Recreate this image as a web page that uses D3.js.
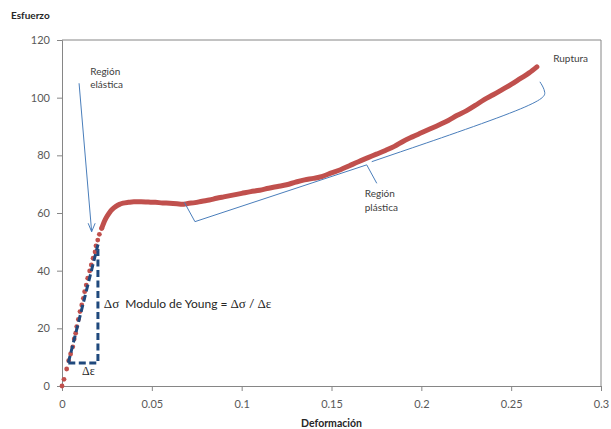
<!DOCTYPE html>
<html><head><meta charset="utf-8">
<script src="https://cdn.jsdelivr.net/npm/d3@7"></script>
<style>
html,body{margin:0;padding:0;background:#fff;}
text{font-family:Lato,"Open Sans",sans-serif;}
</style></head><body>
<svg id="chart" width="611" height="429"></svg>
<script>
// ---- data ----
const xTicks = [0, 0.05, 0.1, 0.15, 0.2, 0.25, 0.3];
const xTickLabels = ["0", "0.05", "0.1", "0.15", "0.2", "0.25", "0.3"];
const yTicks = [0, 20, 40, 60, 80, 100, 120];
const yTickLabels = ["0", "20", "40", "60", "80", "100", "120"];

// elastic region: individual sample points
const elasticStrain = [0, 0.0011, 0.0026, 0.0037, 0.0048, 0.0060, 0.0068, 0.0076, 0.0082, 0.0091, 0.0100, 0.0110, 0.0119, 0.0126, 0.0135, 0.0143, 0.0154, 0.0163, 0.0173, 0.0184, 0.0189, 0.0199, 0.0208, 0.0221];
const elasticStress = [0, 2.3, 5.9, 8.8, 11.1, 13.6, 16.3, 18.3, 20.6, 23.1, 25.8, 28.1, 30.4, 32.7, 35.0, 37.4, 39.9, 42.0, 44.3, 46.5, 48.6, 50.6, 52.6, 54.7];

// yield + plastic region: densely sampled points (drawn as a thick trace)
const plasticStrain = [0.0221, 0.0235, 0.0250, 0.0265, 0.0280, 0.0300, 0.0320, 0.0340, 0.0370, 0.0400, 0.0440, 0.0480, 0.0520, 0.0560, 0.0600, 0.0640, 0.0670, 0.0700, 0.0740, 0.0780, 0.0820, 0.0860, 0.0900, 0.0950, 0.1000, 0.1050, 0.1100, 0.1150, 0.1200, 0.1250, 0.1300, 0.1350, 0.1400, 0.1450, 0.1500, 0.1550, 0.1600, 0.1650, 0.1700, 0.1750, 0.1800, 0.1850, 0.1900, 0.1950, 0.2000, 0.2050, 0.2100, 0.2150, 0.2200, 0.2250, 0.2300, 0.2350, 0.2400, 0.2450, 0.2500, 0.2550, 0.2600, 0.2643];
const plasticStress = [54.7, 57.0, 58.8, 60.2, 61.3, 62.3, 63.0, 63.4, 63.7, 63.9, 63.9, 63.8, 63.7, 63.5, 63.4, 63.2, 63.0, 63.3, 63.6, 64.1, 64.5, 65.1, 65.6, 66.2, 66.8, 67.4, 67.9, 68.6, 69.2, 69.8, 70.7, 71.5, 72.0, 72.7, 73.9, 75.0, 76.4, 77.8, 79.1, 80.4, 81.7, 83.1, 84.9, 86.4, 87.8, 89.2, 90.6, 92.1, 93.9, 95.4, 97.3, 99.3, 101.0, 102.8, 104.6, 106.6, 108.6, 110.7];

// Young's modulus triangle (strain, stress)
const triStrain = [0.0035, 0.0200, 0.0200, 0.0035];
const triStress = [8, 8, 49, 8];

// annotation anchors (strain, stress)
const arrowStrain = [0.0095, 0.0165];
const arrowStress = [105.0, 53.5];
const braceStrain = [0.0681, 0.0740, 0.1696, 0.1752];
const braceStress = [63.7, 57.0, 76.7, 70.3];
const brace2Strain = [0.1724, 0.2679, 0.2695, 0.2660];
const brace2Stress = [77.8, 98.1, 102.0, 105.5];

// ---- layout ----
const W = 611, H = 429;
const m = {left: 62, right: 10, top: 40, bottom: 43};
const svg = d3.select("#chart");
const x = d3.scaleLinear().domain([0, 0.3]).range([m.left, W - m.right]);
const y = d3.scaleLinear().domain([0, 120]).range([H - m.bottom, m.top]);

const axisColor = "#868686";
const labelColor = "#595959";

// frame (top / right)
svg.append("line").attr("x1", x(0)).attr("x2", x(0.3)).attr("y1", y(120)).attr("y2", y(120)).attr("stroke", axisColor);
svg.append("line").attr("x1", x(0.3)).attr("x2", x(0.3)).attr("y1", y(120)).attr("y2", y(0)).attr("stroke", axisColor);

// axes
const xAxis = d3.axisBottom(x).tickValues(xTicks).tickFormat((d, i) => xTickLabels[i]).tickSize(5).tickPadding(9);
const yAxis = d3.axisLeft(y).tickValues(yTicks).tickFormat((d, i) => yTickLabels[i]).tickSize(5).tickPadding(7);
const gx = svg.append("g").attr("transform", `translate(0,${y(0)})`).call(xAxis);
const gy = svg.append("g").attr("transform", `translate(${x(0)},0)`).call(yAxis);
[gx, gy].forEach(g => {
  g.select(".domain").attr("stroke", axisColor);
  g.selectAll(".tick line").attr("stroke", axisColor);
  g.selectAll(".tick text").attr("fill", labelColor).style("font-size", "11px").style("font-family", "Lato, sans-serif");
});

// axis titles
svg.append("text").attr("x", 11).attr("y", 19).text("Esfuerzo")
  .style("font-size", "10px").style("font-weight", "bold").attr("fill", "#262626");
svg.append("text").attr("x", (x(0) + x(0.3)) / 2).attr("y", 427).attr("text-anchor", "middle").text("Deformación")
  .style("font-size", "10.5px").style("font-weight", "bold").attr("fill", "#262626");

// ---- data marks ----
const red = "#C0504D";
const plastic = plasticStrain.map((s, i) => [s, plasticStress[i]]);
svg.append("path").datum(plastic)
  .attr("d", d3.line().x(d => x(d[0])).y(d => y(d[1])).curve(d3.curveMonotoneX))
  .attr("fill", "none").attr("stroke", red).attr("stroke-width", 5).attr("stroke-linecap", "round").attr("stroke-linejoin", "round");

svg.append("g").selectAll("circle").data(elasticStrain.map((s, i) => [s, elasticStress[i]]))
  .join("circle").attr("cx", d => x(d[0])).attr("cy", d => y(d[1])).attr("r", 2.4).attr("fill", red);

// Young's modulus dashed triangle
svg.append("path").datum(triStrain.map((s, i) => [s, triStress[i]]))
  .attr("d", d3.line().x(d => x(d[0])).y(d => y(d[1])))
  .attr("fill", "none").attr("stroke", "#1F497D").attr("stroke-width", 3).attr("stroke-dasharray", "7,3.5");

// annotations
const blue = "#4A7EBB";
const lineGen = d3.line().x(d => x(d[0])).y(d => y(d[1]));
// arrow
svg.append("path").datum(arrowStrain.map((s, i) => [s, arrowStress[i]]))
  .attr("d", lineGen).attr("stroke", blue).attr("fill", "none").attr("stroke-width", 1);
const tip = [x(arrowStrain[1]), y(arrowStress[1])];
svg.append("path").attr("d", `M${tip[0] - 3.5},${tip[1] - 8.5}L${tip[0]},${tip[1]}L${tip[0] + 3.5},${tip[1] - 8.5}`)
  .attr("stroke", blue).attr("fill", "none").attr("stroke-width", 1);
// brace (plastic region)
svg.append("path").datum(braceStrain.map((s, i) => [s, braceStress[i]]))
  .attr("d", lineGen).attr("stroke", blue).attr("fill", "none").attr("stroke-width", 1);
svg.append("path").datum(brace2Strain.map((s, i) => [s, brace2Stress[i]]))
  .attr("d", d3.line().x(d => x(d[0])).y(d => y(d[1])).curve(d3.curveBasis))
  .attr("stroke", blue).attr("fill", "none").attr("stroke-width", 1);

const annColor = "#404040";
function label(lines, sx, sy, size) {
  const t = svg.append("text").attr("x", x(sx)).attr("y", y(sy)).attr("fill", annColor).style("font-size", size + "px");
  lines.forEach((l, i) => t.append("tspan").attr("x", x(sx)).attr("dy", i === 0 ? 0 : 13.5).text(l));
}
label(["Región", "elástica"], 0.0157, 108.0, 10);
label(["Región", "plástica"], 0.1685, 65.5, 10);
label(["Ruptura"], 0.2734, 112.3, 10);

// Young modulus text
const ym = svg.append("text").attr("x", x(0.0233)).attr("y", y(27.0)).attr("fill", "#262626").style("font-size", "12px");
ym.append("tspan").style("font-family", "'Liberation Serif', serif").style("font-size", "13px").text("Δσ");
ym.append("tspan").attr("dx", 6).text("Modulo de Young = ");
ym.append("tspan").style("font-family", "'Liberation Serif', serif").style("font-size", "13px").text("Δσ");
ym.append("tspan").text(" / ");
ym.append("tspan").style("font-family", "'Liberation Serif', serif").style("font-size", "13px").text("Δε");

svg.append("text").attr("x", x(0.0112)).attr("y", y(3.8)).attr("fill", "#262626")
  .style("font-family", "'Liberation Serif', serif").style("font-size", "12px").text("Δε");
</script></body></html>
